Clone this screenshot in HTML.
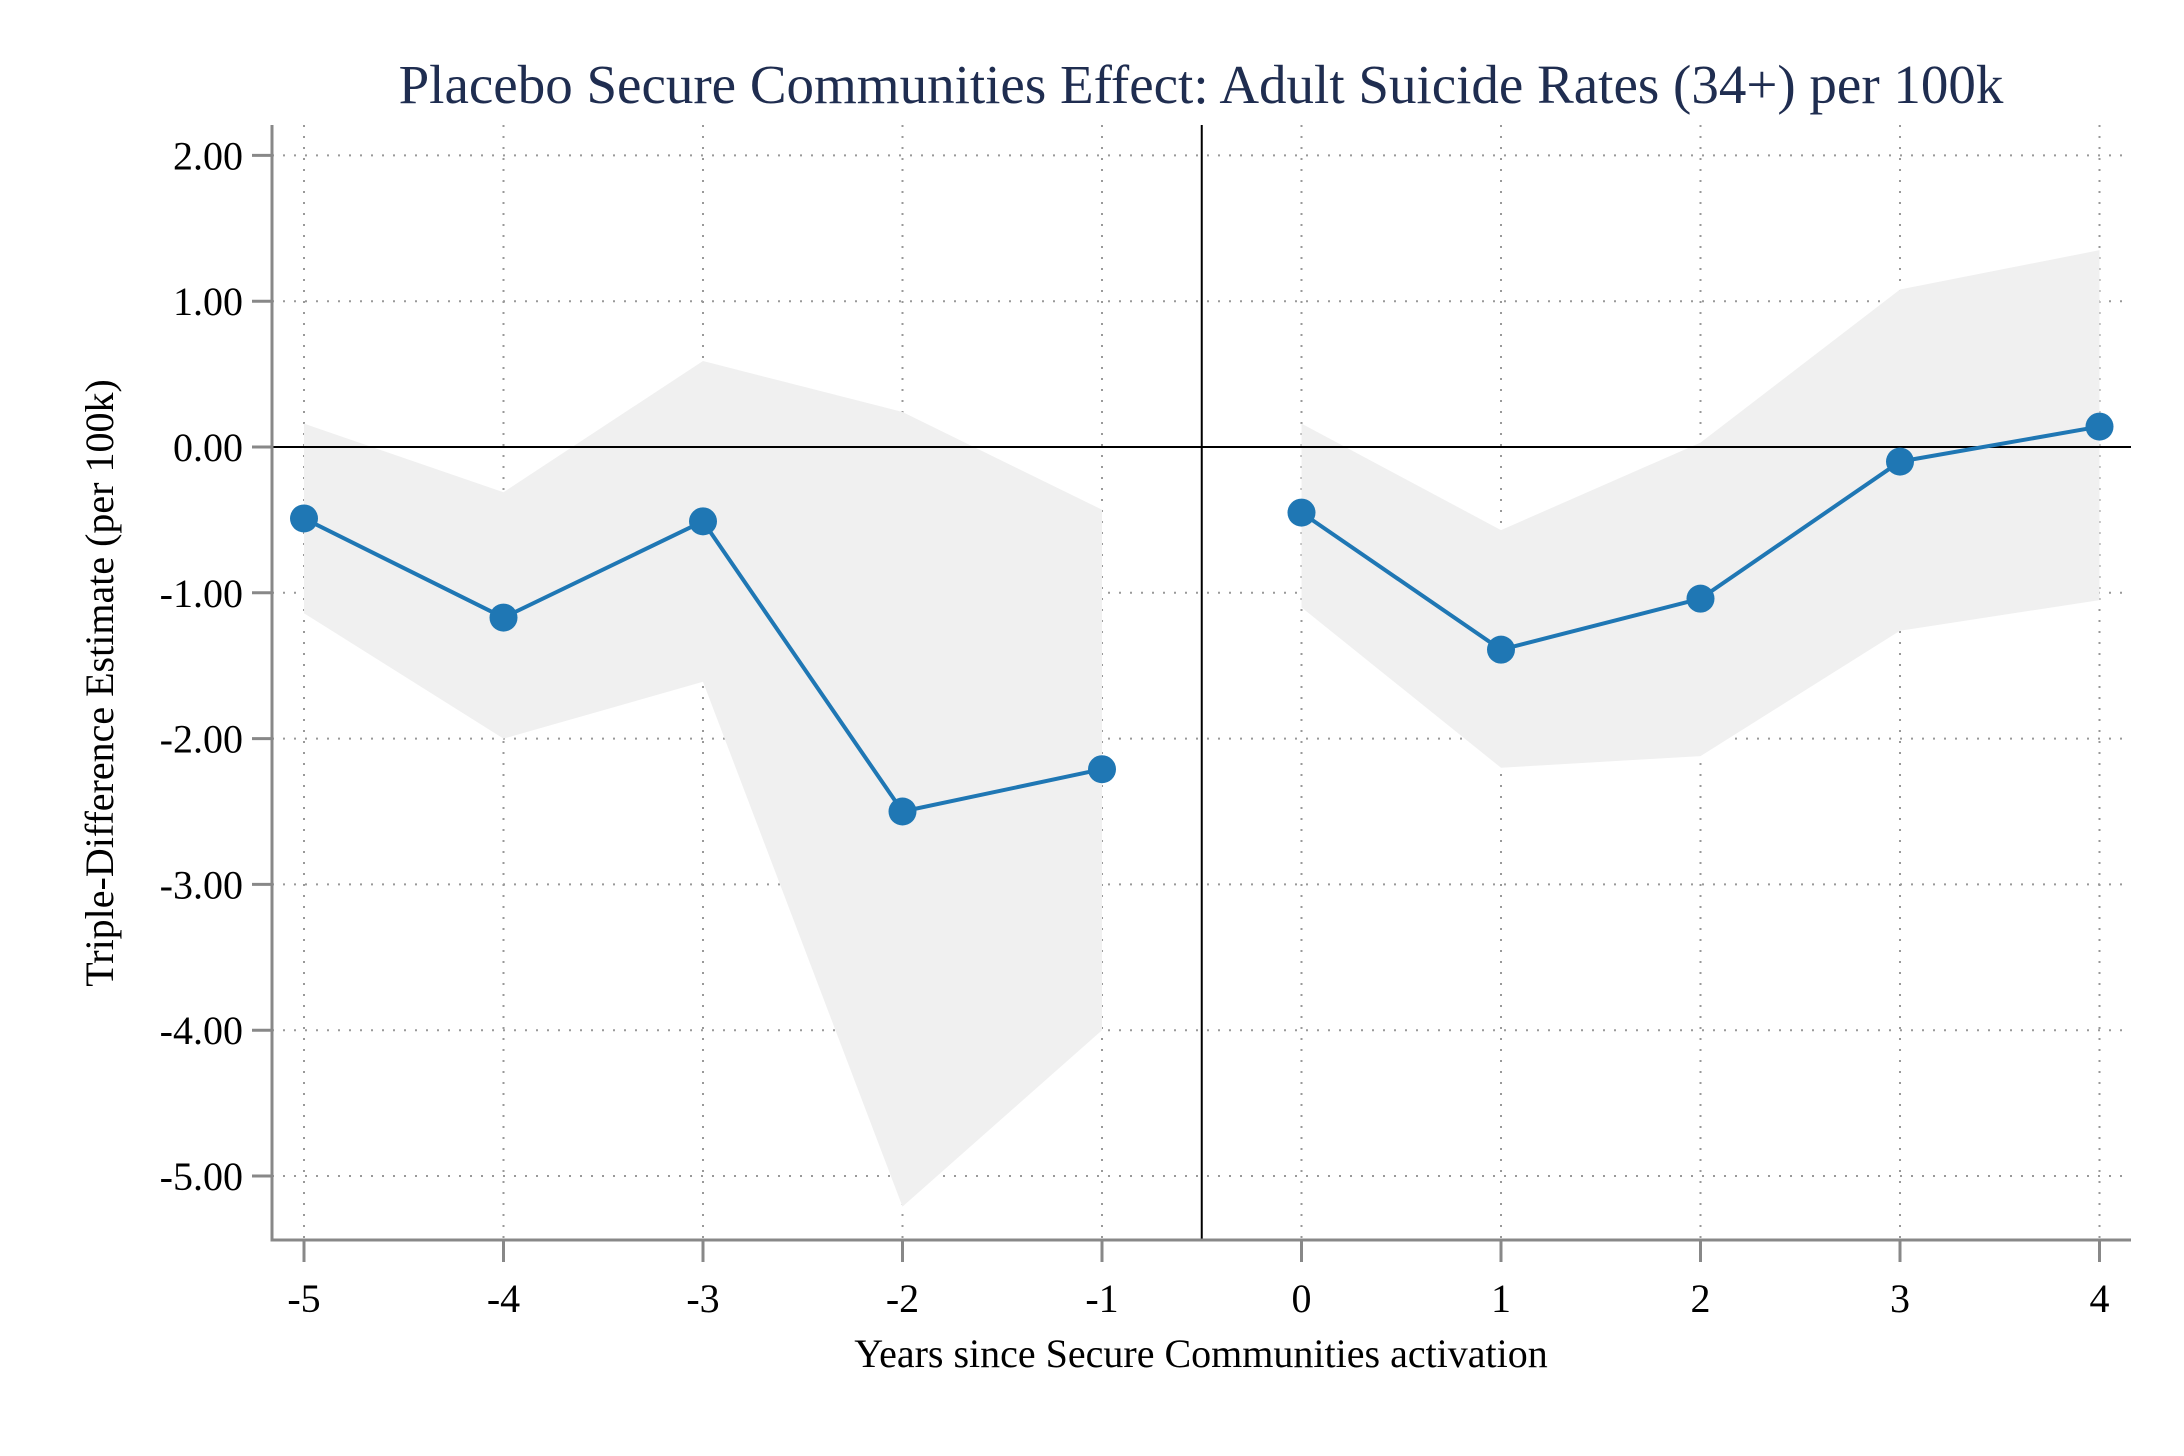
<!DOCTYPE html>
<html><head><meta charset="utf-8"><style>
html,body{margin:0;padding:0;background:#fff;}
svg{display:block;font-family:"Liberation Serif",serif;}
</style></head><body>
<svg id="chart" width="2184" height="1456" viewBox="0 0 2184 1456" xmlns="http://www.w3.org/2000/svg">
<text x="1201" y="103" text-anchor="middle" font-size="55" fill="#1f2d50">Placebo Secure Communities Effect: Adult Suicide Rates (34+) per 100k</text>
<text x="1201" y="1367" text-anchor="middle" font-size="40" fill="#000">Years since Secure Communities activation</text>
<text transform="translate(113,683) rotate(-90)" text-anchor="middle" font-size="40" fill="#000">Triple-Difference Estimate (per 100k)</text>
<g id="grid"></g><g id="band"></g><g id="refs"></g><g id="series"></g><g id="axes"></g>
</svg>
<script>
const years = [-5,-4,-3,-2,-1,0,1,2,3,4];
const estimates = [-0.49,-1.17,-0.51,-2.50,-2.21,-0.45,-1.39,-1.04,-0.10,0.14];
const ciUpper = [0.16,-0.31,0.59,0.24,-0.43,0.16,-0.57,0.03,1.08,1.35];
const ciLower = [-1.14,-2.00,-1.61,-5.21,-4.00,-1.10,-2.20,-2.12,-1.26,-1.05];
const yTicks = [2,1,0,-1,-2,-3,-4,-5];
const yTickLabels = ["2.00","1.00","0.00","-1.00","-2.00","-3.00","-4.00","-5.00"];
const xTickLabels = ["-5","-4","-3","-2","-1","0","1","2","3","4"];

const NS="http://www.w3.org/2000/svg";
const L=272,R=2131,T=125,B=1240;
const X=v=>304+(v+5)*199.5;
const Y=v=>447-v*145.8;
function mk(tag,attrs,parent){const e=document.createElementNS(NS,tag);for(const k in attrs)e.setAttribute(k,attrs[k]);document.getElementById(parent).appendChild(e);return e;}

yTicks.forEach((v,i)=>{
  const g=mk('line',{x1:L,x2:R,y1:Y(v),y2:Y(v),stroke:'#999','stroke-width':2,'stroke-dasharray':'2 9'},'grid');
  
  
  const t=mk('line',{x1:252,x2:L,y1:Y(v),y2:Y(v),stroke:'#888','stroke-width':3},'axes');
  
  
  const lb=mk('text',{x:243,y:Y(v)+14,'text-anchor':'end','font-size':40,fill:'#000'},'axes');
  lb.textContent=yTickLabels[i];
  
  
});
years.forEach((v,i)=>{
  const g=mk('line',{x1:X(v),x2:X(v),y1:T,y2:B,stroke:'#999','stroke-width':2,'stroke-dasharray':'2 9'},'grid');
  
  
  const t=mk('line',{x1:X(v),x2:X(v),y1:B,y2:1262,stroke:'#888','stroke-width':3},'axes');
  
  
  const lb=mk('text',{x:X(v),y:1312,'text-anchor':'middle','font-size':40,fill:'#000'},'axes');
  lb.textContent=xTickLabels[i];
  
  
});
function bandPath(idx){
  let d='';
  idx.forEach((i,k)=>{d+=(k?'L':'M')+X(years[i])+','+Y(ciUpper[i]);});
  idx.slice().reverse().forEach(i=>{d+='L'+X(years[i])+','+Y(ciLower[i]);});
  return d+'Z';
}
const pre=[],post=[];
years.forEach((v,i)=>(v<0?pre:post).push(i));
[pre,post].forEach(idx=>{
  const b=mk('path',{d:bandPath(idx),fill:'#f0f0f0'},'band');
  
  
});
const z=mk('line',{x1:L,x2:R,y1:Y(0),y2:Y(0),stroke:'#000','stroke-width':2},'refs');


const vr=mk('line',{x1:X(-0.5),x2:X(-0.5),y1:T,y2:B,stroke:'#000','stroke-width':2},'refs');


[pre,post].forEach(idx=>{
  const p=mk('polyline',{points:idx.map(i=>X(years[i])+','+Y(estimates[i])).join(' '),fill:'none',stroke:'#1f77b4','stroke-width':4},'series');
  
  
});
years.forEach((v,i)=>{
  const c=mk('circle',{cx:X(v),cy:Y(estimates[i]),r:14,fill:'#1f77b4'},'series');
  
  
});
const ya=mk('line',{x1:L,x2:L,y1:T,y2:B+1.5,stroke:'#888','stroke-width':3},'axes');


const xa=mk('line',{x1:L-1.5,x2:R,y1:B,y2:B,stroke:'#888','stroke-width':3},'axes');


</script>
</body></html>
